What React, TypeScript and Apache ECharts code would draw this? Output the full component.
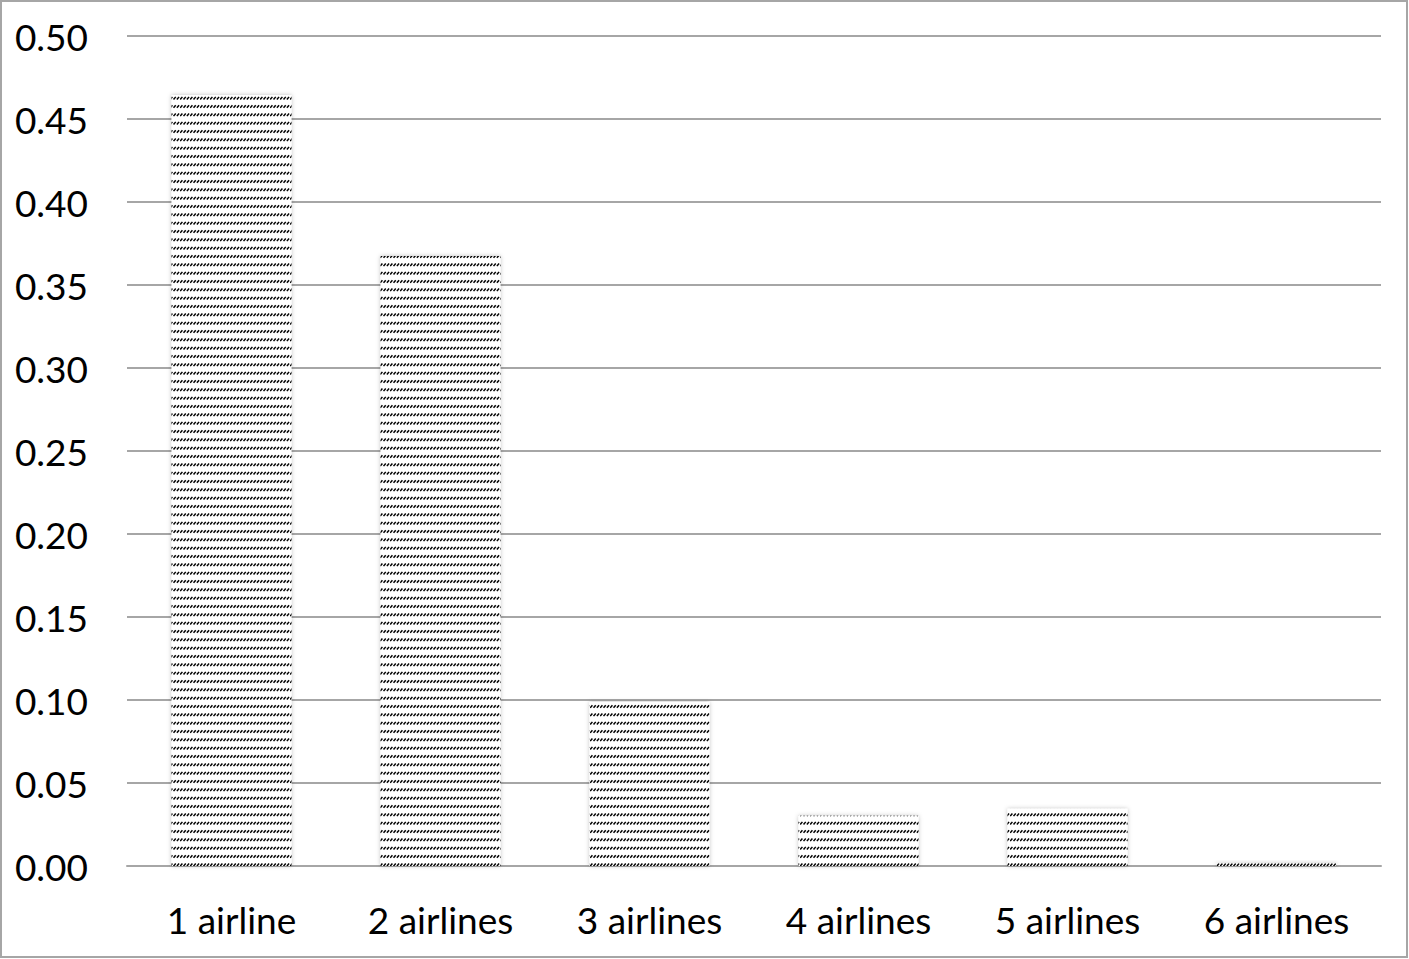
import React, { useEffect, useRef } from "react";
import * as echarts from "echarts";

const categories = ["1 airline", "2 airlines", "3 airlines", "4 airlines", "5 airlines", "6 airlines"];
const shares = [0.4645, 0.3675, 0.0988, 0.0303, 0.0345, 0.0016];
const yTicks = [0, 0.05, 0.1, 0.15, 0.2, 0.25, 0.3, 0.35, 0.4, 0.45, 0.5];

function makePattern(): HTMLCanvasElement {
  const c = document.createElement("canvas");
  c.width = 10;
  c.height = 25;
  const ctx = c.getContext("2d")!;
  ctx.fillStyle = "#ffffff";
  ctx.fillRect(0, 0, 10, 25);
  ctx.strokeStyle = "#000000";
  ctx.lineWidth = 1.5;
  for (let r = 0; r < 3; r++) {
    const y = r * (25 / 3) + 5.0;
    for (let k = 0; k < 3; k++) {
      const x = k * (10 / 3);
      ctx.beginPath();
      ctx.moveTo(x + 0.2, y + 2.8);
      ctx.lineTo(x + 2.4, y + 0.2);
      ctx.stroke();
    }
  }
  return c;
}

export default function App() {
  const ref = useRef<HTMLDivElement>(null);
  useEffect(() => {
    document.body.style.margin = "0";
    const chart = echarts.init(ref.current!, null, { renderer: "svg" });
    const pattern = makePattern();
    chart.setOption({
      animation: false,
      backgroundColor: "#ffffff",
      grid: { left: 127, right: 28, top: 36, bottom: 93 },
      graphic: [
        {
          type: "rect",
          shape: { x: 1, y: 1, width: 1406, height: 956 },
          style: { fill: "none", stroke: "#a6a6a6", lineWidth: 2 },
          silent: true,
        },
      ],
      xAxis: {
        type: "category",
        data: categories,
        axisLine: { lineStyle: { color: "#a6a6a6", width: 2 } },
        axisTick: { show: false },
        axisLabel: {
          color: "#000",
          fontFamily: "Lato",
          fontSize: 37,
          margin: 35,
          interval: 0,
        },
      },
      yAxis: {
        type: "value",
        min: 0,
        max: 0.5,
        interval: 0.05,
        axisLine: { show: false },
        axisTick: { show: false },
        splitLine: { lineStyle: { color: "#a6a6a6", width: 2 } },
        axisLabel: {
          color: "#000",
          fontFamily: "Lato",
          fontSize: 37,
          margin: 39,
          formatter: (v: number) => {
            const m = yTicks.find((t) => Math.abs(t - v) < 1e-9);
            return (m !== undefined ? m : v).toFixed(2);
          },
        },
      },
      series: [
        {
          type: "bar",
          data: shares,
          barWidth: 120,
          itemStyle: {
            color: { image: pattern, repeat: "repeat" } as any,
            shadowBlur: 4,
            shadowColor: "rgba(0,0,0,0.25)",
          },
        },
      ],
    });
    return () => chart.dispose();
  }, []);
  return <div ref={ref} style={{ width: 1409, height: 959 }} />;
}
